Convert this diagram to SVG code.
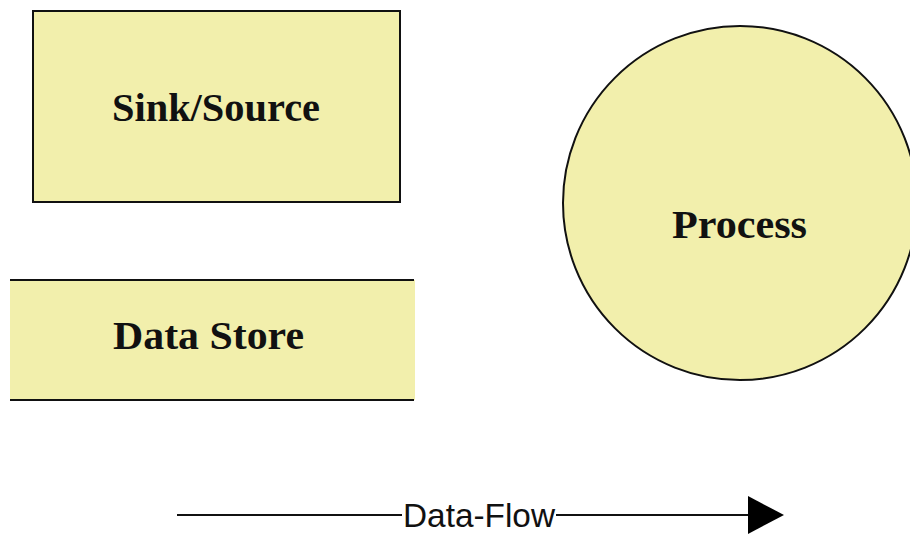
<svg xmlns="http://www.w3.org/2000/svg" width="910" height="535" viewBox="0 0 910 535">
<style>
.fill{fill:#F2EFAC}
.lbl{font-family:"Liberation Serif","Times New Roman",serif;font-weight:bold;font-size:41px;fill:#111;text-anchor:start}
.ln{stroke:#111;stroke-width:2;fill:none}
</style>
<defs>
<marker id="arr" markerWidth="36" markerHeight="38" refX="0" refY="19" orient="auto" markerUnits="userSpaceOnUse">
<path d="M0,0 L36,19 L0,38 Z" fill="#000"/>
</marker>
</defs>
<rect width="910" height="535" fill="#fff"/>
<g id="sink-source">
<rect x="33" y="11" width="367" height="191" class="fill" stroke="#111" stroke-width="2"/>
<text x="112" y="121" class="lbl" textLength="208" lengthAdjust="spacingAndGlyphs">Sink/Source</text>
</g>
<g id="data-store">
<rect x="10" y="280" width="405" height="120" class="fill"/>
<line x1="10" y1="280" x2="414" y2="280" class="ln"/>
<line x1="10" y1="400" x2="414" y2="400" class="ln"/>
<text x="113" y="349" class="lbl" textLength="191" lengthAdjust="spacingAndGlyphs">Data Store</text>
</g>
<g id="process">
<circle cx="740" cy="203" r="177" class="fill" stroke="#111" stroke-width="2"/>
<text x="672" y="238" class="lbl" textLength="135" lengthAdjust="spacingAndGlyphs">Process</text>
</g>
<g id="connectors">
<line x1="177" y1="515" x2="402" y2="515" class="ln"/>
<line x1="556" y1="515" x2="748" y2="515" class="ln" marker-end="url(#arr)"/>
<text x="403" y="527" font-family="Liberation Sans, Arial, sans-serif" font-size="33" fill="#111" textLength="152" lengthAdjust="spacingAndGlyphs">Data-Flow</text>
</g>
</svg>
